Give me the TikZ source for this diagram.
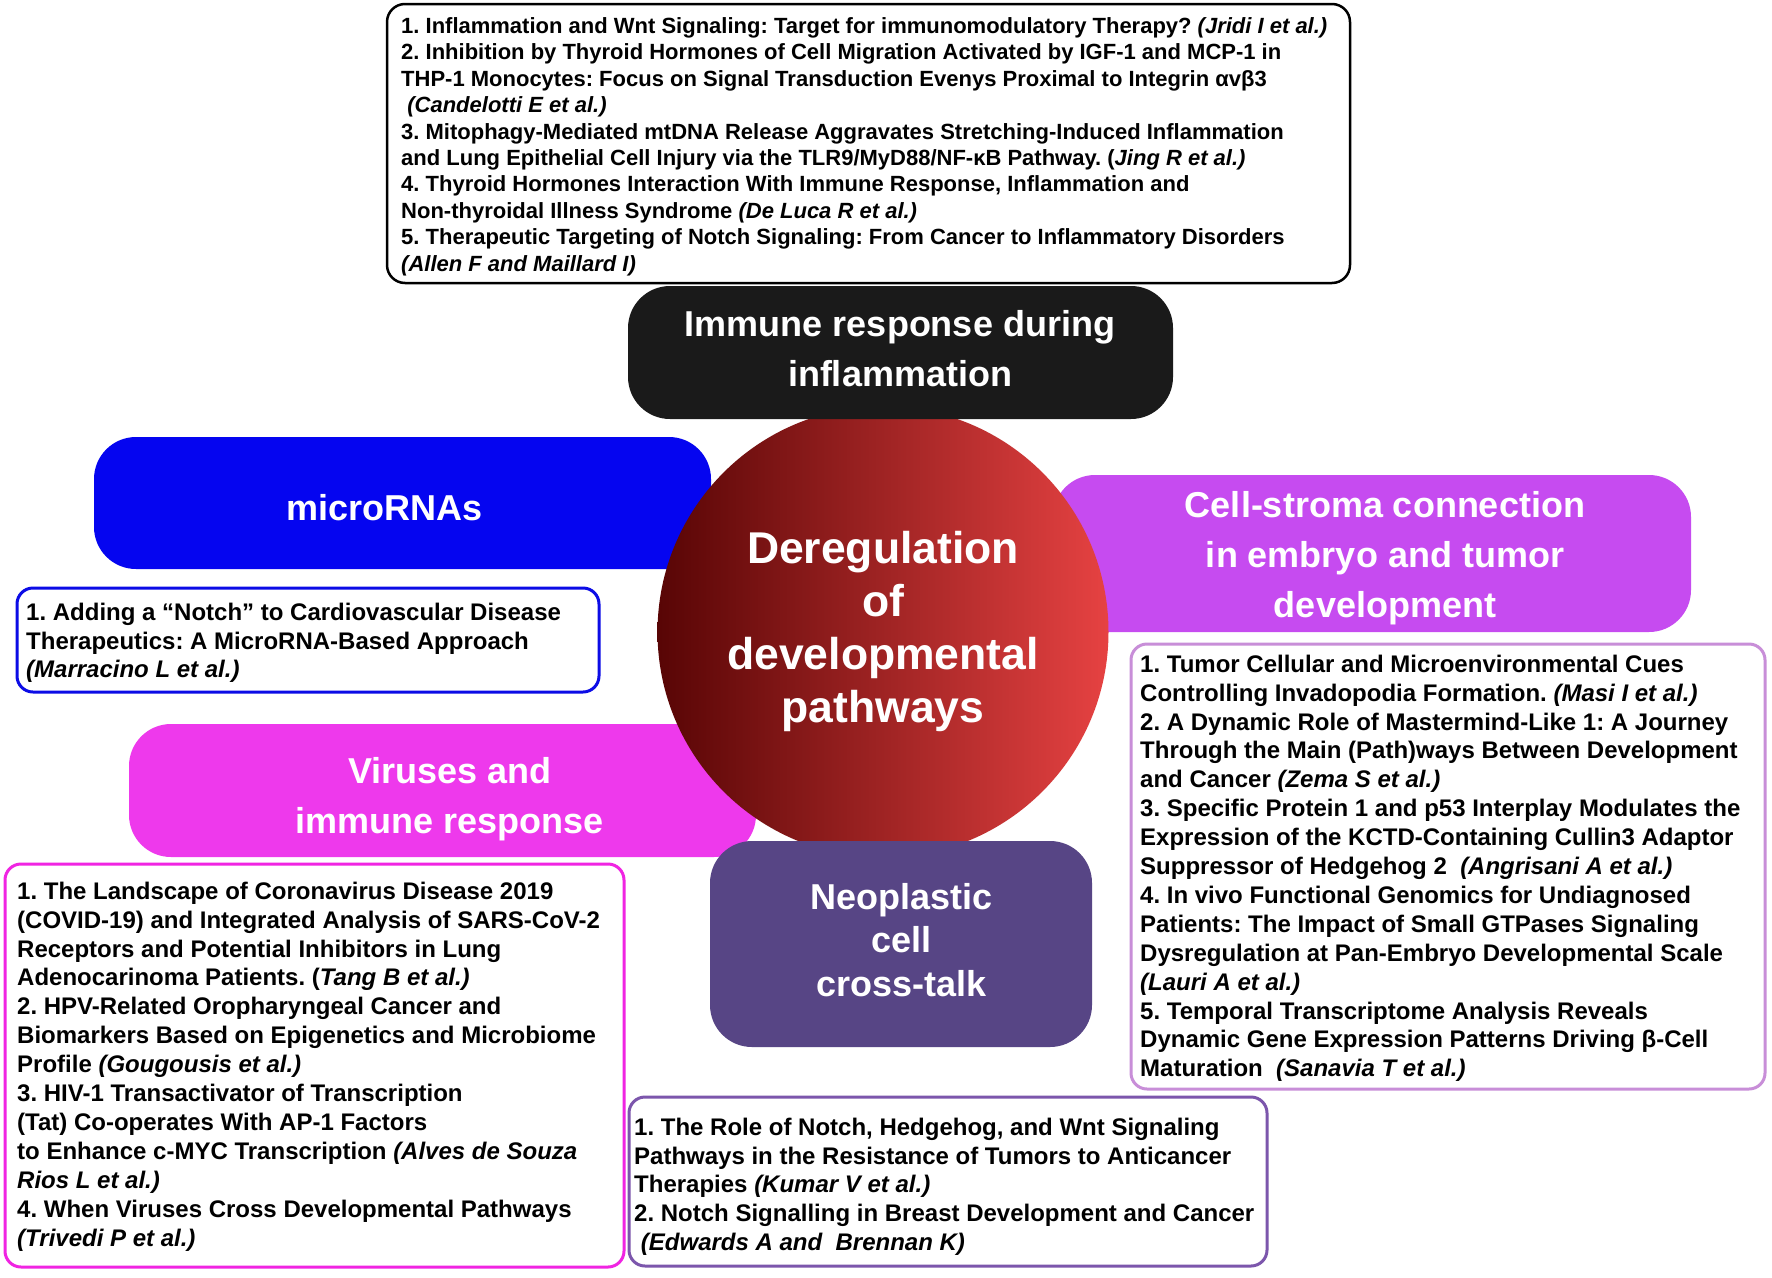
\documentclass[tikz,border=0pt]{standalone}
\usepackage{fontspec}
\setmainfont{Liberation Sans}
\definecolor{immfill}{RGB}{26,26,26}
\definecolor{mirfill}{RGB}{5,5,240}
\definecolor{mirline}{RGB}{12,12,230}
\definecolor{cellfill}{RGB}{198,75,240}
\definecolor{cellline}{RGB}{200,142,216}
\definecolor{virfill}{RGB}{238,57,236}
\definecolor{virline}{RGB}{240,36,226}
\definecolor{neofill}{RGB}{87,69,133}
\definecolor{neoline}{RGB}{124,86,172}
\definecolor{circL}{RGB}{88,5,5}
\definecolor{circR}{RGB}{230,66,66}
\newcommand\listfont{\fontsize{24}{28.9}\selectfont\bfseries\frenchspacing}
\newcommand\topfont{\fontsize{22}{26.4}\selectfont\bfseries\frenchspacing}
\newcommand\headfont{\fontsize{36}{50}\selectfont\bfseries\frenchspacing}
\begin{document}
\frenchspacing
\begin{tikzpicture}[x=1pt,y=-1pt,
  solidbox/.style={rectangle, inner sep=0pt, rounded corners=42pt, draw=none},
  outbox/.style={rectangle, inner sep=0pt, rounded corners=16pt, line width=3pt, fill=white},
  headtext/.style={text=white, align=center, inner sep=0pt, anchor=center},
  listtext/.style={anchor=north west, align=left, inner sep=0pt, font=\listfont, text=black}]
\path[use as bounding box, fill=white] (0,0) rectangle (1772,1277);

% top reference box
\node[outbox, draw=black, line width=2.5pt, rounded corners=18pt, minimum width=963pt, minimum height=279pt] (topbox) at (868.5,143.5) {};

% coloured heading boxes behind the circle
\node[solidbox, fill=mirfill, minimum width=617pt, minimum height=132pt] (mirbox) at (402.5,503) {};
\node[solidbox, fill=cellfill, minimum width=638pt, minimum height=157pt] (cellbox) at (1372,553.5) {};
\node[solidbox, fill=virfill, minimum width=627pt, minimum height=133pt] (virbox) at (442.5,790.5) {};

% central circle
\node[circle, inner sep=0pt, minimum size=451pt, left color=circL, right color=circR, draw=none] (center) at (883,632) {};

% heading boxes in front of the circle
\node[solidbox, fill=immfill, minimum width=545pt, minimum height=133pt] (immbox) at (900.5,352.5) {};
\node[solidbox, fill=neofill, minimum width=382pt, minimum height=206pt] (neobox) at (901,944) {};

% outlined reference boxes
\node[outbox, draw=mirline, minimum width=582pt, minimum height=104pt] (mirlist) at (308,640) {};
\node[outbox, draw=cellline, minimum width=634pt, minimum height=445pt] (celllist) at (1448,866.5) {};
\node[outbox, draw=virline, minimum width=619pt, minimum height=403pt] (virlist) at (314.5,1065.5) {};
\node[outbox, draw=neoline, minimum width=638pt, minimum height=169pt] (neolist) at (948,1181.5) {};

% heading texts
\node[headtext, font=\headfont] (immtext) at (900,351.5) {\strut Immune response during\\\strut inflammation};
\node[headtext, font=\headfont] (mirtext) at (384.5,510) {\strut microRNAs};
\node[headtext, font=\headfont] (celltext) at (1385,557) {\strut Cell-stroma connection\\\strut in embryo and tumor\\\strut development};
\node[headtext, font=\headfont] (virtext) at (450,798) {\strut Viruses and\\\strut immune response};
\node[headtext, font=\fontsize{36}{43.5}\selectfont\bfseries] (neotext) at (901.5,944) {\strut Neoplastic\\\strut cell\\\strut cross-talk};
\node[headtext, font=\fontsize{44.5}{53}\selectfont\bfseries] (centertext) at (883,632) {\strut Deregulation\\\strut of\\\strut developmental\\\strut pathways};

% reference lists
\node[listtext, font=\topfont] (toptext) at (401,14.8) {\strut 1. Inflammation and Wnt Signaling: Target for immunomodulatory Therapy? \textit{(Jridi I et al.)}\\
2. Inhibition by Thyroid Hormones of Cell Migration Activated by IGF-1 and MCP-1 in\\
THP-1 Monocytes: Focus on Signal Transduction Evenys Proximal to Integrin αvβ3\\
\hspace*{0.28em}\textit{(Candelotti E et al.)}\\
3. Mitophagy-Mediated mtDNA Release Aggravates Stretching-Induced Inflammation\\
and Lung Epithelial Cell Injury via the TLR9/MyD88/NF-κB Pathway. (\textit{Jing R et al.)}\\
4. Thyroid Hormones Interaction With Immune Response, Inflammation and\\
Non-thyroidal Illness Syndrome \textit{(De Luca R et al.)}\\
5. Therapeutic Targeting of Notch Signaling: From Cancer to Inflammatory Disorders\\
\textit{(Allen F and Maillard I)}};

\node[listtext] (mirrefs) at (26,599.7) {\strut 1. Adding a “Notch” to Cardiovascular Disease\\
Therapeutics: A MicroRNA-Based Approach\\
\textit{(Marracino L et al.)}};

\node[listtext] (cellrefs) at (1140,651.8) {\strut 1. Tumor Cellular and Microenvironmental Cues\\
Controlling Invadopodia Formation. \textit{(Masi I et al.)}\\
2. A Dynamic Role of Mastermind-Like 1: A Journey\\
Through the Main (Path)ways Between Development\\
and Cancer \textit{(Zema S et al.)}\\
3. Specific Protein 1 and p53 Interplay Modulates the\\
Expression of the KCTD-Containing Cullin3 Adaptor\\
Suppressor of Hedgehog 2\ \ \textit{(Angrisani A et al.)}\\
4. In vivo Functional Genomics for Undiagnosed\\
Patients: The Impact of Small GTPases Signaling\\
Dysregulation at Pan-Embryo Developmental Scale\\
\textit{(Lauri A et al.)}\\
5. Temporal Transcriptome Analysis Reveals\\
Dynamic Gene Expression Patterns Driving β-Cell\\
Maturation\ \ \textit{(Sanavia T et al.)}};

\node[listtext] (virrefs) at (17,878.8) {\strut 1. The Landscape of Coronavirus Disease 2019\\
(COVID-19) and Integrated Analysis of SARS-CoV-2\\
Receptors and Potential Inhibitors in Lung\\
Adenocarinoma Patients. (\textit{Tang B et al.)}\\
2. HPV-Related Oropharyngeal Cancer and\\
Biomarkers Based on Epigenetics and Microbiome\\
Profile \textit{(Gougousis et al.)}\\
3. HIV-1 Transactivator of Transcription\\
(Tat) Co-operates With AP-1 Factors\\
to Enhance c-MYC Transcription \textit{(Alves de Souza}\\
\textit{Rios L et al.)}\\
4. When Viruses Cross Developmental Pathways\\
\textit{(Trivedi P et al.)}};

\node[listtext] (neorefs) at (634,1114.7) {\strut 1. The Role of Notch, Hedgehog, and Wnt Signaling\\
Pathways in the Resistance of Tumors to Anticancer\\
Therapies \textit{(Kumar V et al.)}\\
2. Notch Signalling in Breast Development and Cancer\\
\hspace*{0.28em}\textit{(Edwards A and\ \ Brennan K)}};
\end{tikzpicture}
\end{document}
